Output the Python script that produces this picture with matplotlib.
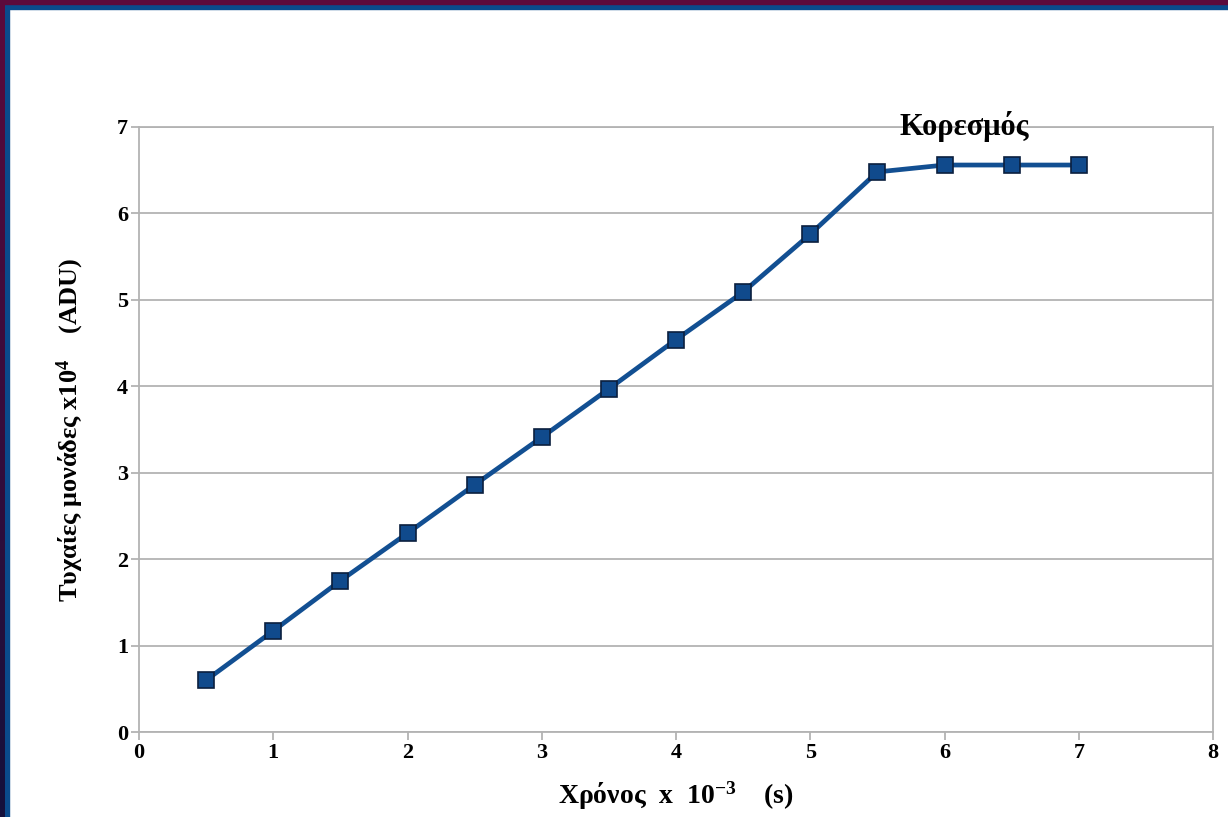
import numpy as np
import matplotlib
matplotlib.use('Agg')
import matplotlib.pyplot as plt
from matplotlib.colors import LinearSegmentedColormap
from matplotlib.patches import Rectangle

# Data.
timeMs = [0.5, 1.0, 1.5, 2.0, 2.5, 3.0, 3.5, 4.0, 4.5, 5.0, 5.5, 6.0, 6.5, 7.0]
counts = [0.60, 1.17, 1.75, 2.30, 2.86, 3.41, 3.97, 4.54, 5.09, 5.76, 6.48,
          6.56, 6.56, 6.56]
xTicks = [0, 1, 2, 3, 4, 5, 6, 7, 8]
yTicks = [0, 1, 2, 3, 4, 5, 6, 7]

W, H = 1228, 817
plt.rcParams['font.family'] = ['Liberation Serif', 'DejaVu Serif']
plt.rcParams['mathtext.fontset'] = 'custom'
plt.rcParams['mathtext.rm'] = 'Liberation Serif:bold'
plt.rcParams['mathtext.bf'] = 'Liberation Serif:bold'
plt.rcParams['mathtext.default'] = 'bf'

fig = plt.figure(figsize=(W / 100, H / 100), dpi=100)
fig.patch.set_facecolor('white')

# Slide frame: dark outer band and blue inner band on top and left.
fig.patches.append(Rectangle((0, 1 - 9 / H), 1, 9 / H, transform=fig.transFigure,
                             color='#0a4a8c', zorder=0))
fig.patches.append(Rectangle((0, 1 - 4 / H), 1, 4 / H, transform=fig.transFigure,
                             color='#5c0a3c', zorder=1))
fig.patches.append(Rectangle((0, 0), 9 / W, 1, transform=fig.transFigure,
                             color='#0a4a8c', zorder=0))
edge = fig.add_axes([0, 0, 5 / W, 1 - 4 / H], zorder=5)
cmap = LinearSegmentedColormap.from_list('edge', ['#14103c', '#5c0a3c'])
edge.imshow(np.linspace(0, 1, 100).reshape(-1, 1), aspect='auto', cmap=cmap,
            origin='lower', extent=[0, 1, 0, 1])
edge.axis('off')

ax = fig.add_axes([139 / W, 1 - 732 / H, (1213 - 139) / W, (732 - 127) / H])
ax.plot(timeMs, counts, color='#124f92', linewidth=3.4, marker='s',
        markersize=12, markerfacecolor='#104a8c', markeredgecolor='#0b1f3e',
        markeredgewidth=1.2, zorder=3, clip_on=False)

ax.set_xlim(0, 8)
ax.set_ylim(0, 7)
ax.set_xticks(xTicks)
ax.set_yticks(yTicks)
ax.grid(axis='y', color='#b3b3b3', linewidth=1.3)
ax.set_axisbelow(True)
for s in ax.spines.values():
    s.set_color('#b3b3b3')
    s.set_linewidth(1.3)
ax.tick_params(colors='#b3b3b3', length=6, width=1.3, labelcolor='black',
               labelsize=16, pad=2)
for lbl in ax.get_xticklabels() + ax.get_yticklabels():
    lbl.set_fontweight('bold')

ax.set_xlabel('Χρόνος  x  10$^{-3}$    (s)', fontsize=20,
              fontweight='bold', labelpad=12)
ax.set_ylabel('Τυχαίες μονάδες x10$^{4}$    (ADU)', fontsize=19,
              fontweight='bold', labelpad=22)

ax.text(6.15, 6.91, 'Κορεσμός', fontsize=22, fontweight='bold',
        ha='center', va='baseline')

fig.savefig('out.png', dpi=100)
